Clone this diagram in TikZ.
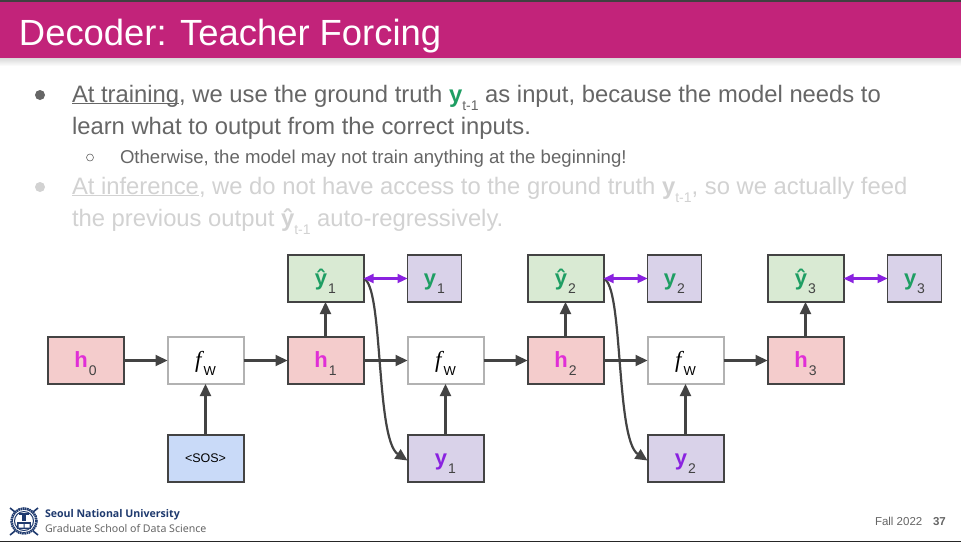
\documentclass[tikz,border=0pt]{standalone}
\usepackage{fontspec}
\setmainfont{Liberation Sans}
\newfontfamily\notosans{Noto Sans}
\newfontfamily\opensans{Open Sans}
\newfontfamily\serifit[ItalicFont=Liberation Serif Italic]{Liberation Serif}
\usetikzlibrary{arrows.meta,calc}
\definecolor{banner}{HTML}{C2237A}
\definecolor{bodygray}{HTML}{666666}
\definecolor{fadegray}{HTML}{D2D2D2}
\definecolor{edgegray}{HTML}{434343}
\definecolor{gfill}{HTML}{D9EAD3}
\definecolor{pfill}{HTML}{D9D2E9}
\definecolor{rfill}{HTML}{F4CCCC}
\definecolor{bfill}{HTML}{C9DAF8}
\definecolor{ygreen}{HTML}{1E9E63}
\definecolor{ypurple}{HTML}{8A22E0}
\definecolor{hmag}{HTML}{E02FD6}
\definecolor{navy}{HTML}{1F3A6E}
\newcommand{\fs}[1]{\fontsize{#1}{#1}\selectfont}
\newcommand{\ulsm}[1]{\underline{\smash{#1}}}
\newcommand{\sbs}[1]{\raisebox{-8pt}{\fs{14}#1}}
\newcommand{\lab}[3]{\smash{\raisebox{-7pt}{{\fs{22}\bfseries\color{#1}#2}\hspace{1pt}\raisebox{-8pt}{\fs{14}\color{edgegray}#3}}}}
\newcommand{\fw}{\smash{\raisebox{-7pt}{{\serifit\fs{23}\itshape f}\hspace{2pt}\raisebox{-8pt}{\fs{13}W}}}}
\tikzset{
  x=1pt,y=-1pt,
  txt/.style={anchor=base west,inner sep=0pt,outer sep=0pt},
  boxn/.style={draw=edgegray,line width=2pt,minimum width=76pt,minimum height=47pt,inner sep=0pt,outer sep=0pt,anchor=north west},
  small box/.style={boxn,line width=1.2pt,minimum width=54pt},
  conn/.style={draw=edgegray,line width=2.2pt,-{Triangle[length=12pt,width=11pt]}},
  twoway/.style={draw=ypurple,line width=2.2pt,{Triangle[length=10pt,width=9pt]}-{Triangle[length=10pt,width=9pt]}},
}
\begin{document}
\begin{tikzpicture}
\useasboundingbox (0,0) rectangle (961,542);
\fill[white] (0,0) rectangle (961,542);
% banner
\shade[top color=black!15,bottom color=white] (0,58) rectangle (961,66);
\fill[banner] (0,1) rectangle (961,58);
\fill[black!75] (0,0) rectangle (961,1.5);
\fill[black!85] (0,541) rectangle (961,542);
\node[txt,text=white] (title) at (19,45) {\fs{36.4}Decoder: Teacher Forcing};
% bullets
\fill[bodygray] (40,95) circle (5);
\node[txt,text=bodygray] (l1) at (72,102) {\fs{23.8}\ulsm{At training}, we use the ground truth {\bfseries\color{ygreen}y}\sbs{t-1} as input, because the model needs to};
\node[txt,text=bodygray] (l2) at (72,134) {\fs{23.8}learn what to output from the correct inputs.};
\draw[bodygray,line width=0.6pt] (90,157.5) circle (3.5);
\node[txt,text=bodygray] (l3) at (120,163) {\fs{18.6}Otherwise, the model may not train anything at the beginning!};
\fill[fadegray] (40,187) circle (5);
\node[txt,text=fadegray] (l4) at (72,194) {\fs{23.8}\ulsm{At inference}, we do not have access to the ground truth {\bfseries y}\sbs{t-1}, so we actually feed};
\node[txt,text=fadegray] (l5) at (72,226) {\fs{23.8}the previous output {\bfseries ŷ}\sbs{t-1} auto-regressively.};
% boxes middle row
\node[boxn,fill=rfill] (h0) at (47.5,337) {\lab{hmag}{h}{0}};
\node[boxn,draw=black!30,fill=white] (f1) at (167.5,337) {\fw};
\node[boxn,fill=rfill] (h1) at (287.5,337) {\lab{hmag}{h}{1}};
\node[boxn,draw=black!30,fill=white] (f2) at (407.5,337) {\fw};
\node[boxn,fill=rfill] (h2) at (527.5,337) {\lab{hmag}{h}{2}};
\node[boxn,draw=black!30,fill=white] (f3) at (647.5,337) {\fw};
\node[boxn,fill=rfill] (h3) at (767.5,337) {\lab{hmag}{h}{3}};
% top row
\node[boxn,fill=gfill] (p1) at (287.5,255) {\lab{ygreen}{ŷ}{1}};
\node[small box,fill=pfill] (t1) at (407.5,255) {\lab{ygreen}{y}{1}};
\node[boxn,fill=gfill] (p2) at (527.5,255) {\lab{ygreen}{ŷ}{2}};
\node[small box,fill=pfill] (t2) at (647.5,255) {\lab{ygreen}{y}{2}};
\node[boxn,fill=gfill] (p3) at (767.5,255) {\lab{ygreen}{ŷ}{3}};
\node[small box,fill=pfill] (t3) at (887.5,255) {\lab{ygreen}{y}{3}};
% bottom row
\node[boxn,fill=bfill] (sos) at (167.5,435) {\fs{12.5}<SOS>};
\node[boxn,fill=pfill] (b1) at (407.5,435) {\lab{ypurple}{y}{1}};
\node[boxn,fill=pfill] (b2) at (647.5,435) {\lab{ypurple}{y}{2}};
% connectors
\draw[conn] (h0) -- (f1);
\draw[conn] (f1) -- (h1);
\draw[conn] (h1) -- (f2);
\draw[conn] (f2) -- (h2);
\draw[conn] (h2) -- (f3);
\draw[conn] (f3) -- (h3);
\draw[conn] (sos) -- (f1);
\draw[conn] (b1) -- (f2);
\draw[conn] (b2) -- (f3);
\draw[conn] (h1.north -| p1) -- (p1);
\draw[conn] (h2.north -| p2) -- (p2);
\draw[conn] (h3.north -| p3) -- (p3);
\draw[conn] (p1.east) .. controls +(20,6) and ($(b1.west)+(-32,-19)$) .. ([yshift=-2pt]b1.west);
\draw[conn] (p2.east) .. controls +(20,6) and ($(b2.west)+(-32,-19)$) .. ([yshift=-2pt]b2.west);
\draw[twoway] (p1.east) -- (t1.west);
\draw[twoway] (p2.east) -- (t2.west);
\draw[twoway] (p3.east) -- (t3.west);
% logo
\draw[navy,line width=2.6pt,dash pattern=on 1.6pt off 0.6pt] (24,521) circle (12.5);
\draw[navy,line width=1pt] (24,521) circle (9.5);
\draw[navy,line width=1.6pt] (10,508) -- (15,512) (38,508) -- (33,512) (10,535) -- (15,531) (38,535) -- (33,531);
\fill[navy] (17,522) rectangle (31,529);
\fill[white] (18.5,524) rectangle (23.5,527.5) (24.5,524) rectangle (29.5,527.5);
\fill[navy] (22,513) rectangle (26,521);
\fill[navy] (19,513) rectangle (29,515);
% footer
\node[txt,text=navy] (snu) at (45,517) {\opensans\fs{10.6}\bfseries Seoul National University};
\node[txt,text=bodygray] (gsds) at (45,532) {\notosans\fs{10.6}Graduate School of Data Science};
\node[txt,text=bodygray] (fall) at (875,525) {\fs{11.5}Fall 2022};
\node[txt,text=bodygray] (pg) at (933,525) {\fs{11.5}\bfseries 37};
\end{tikzpicture}
\end{document}
